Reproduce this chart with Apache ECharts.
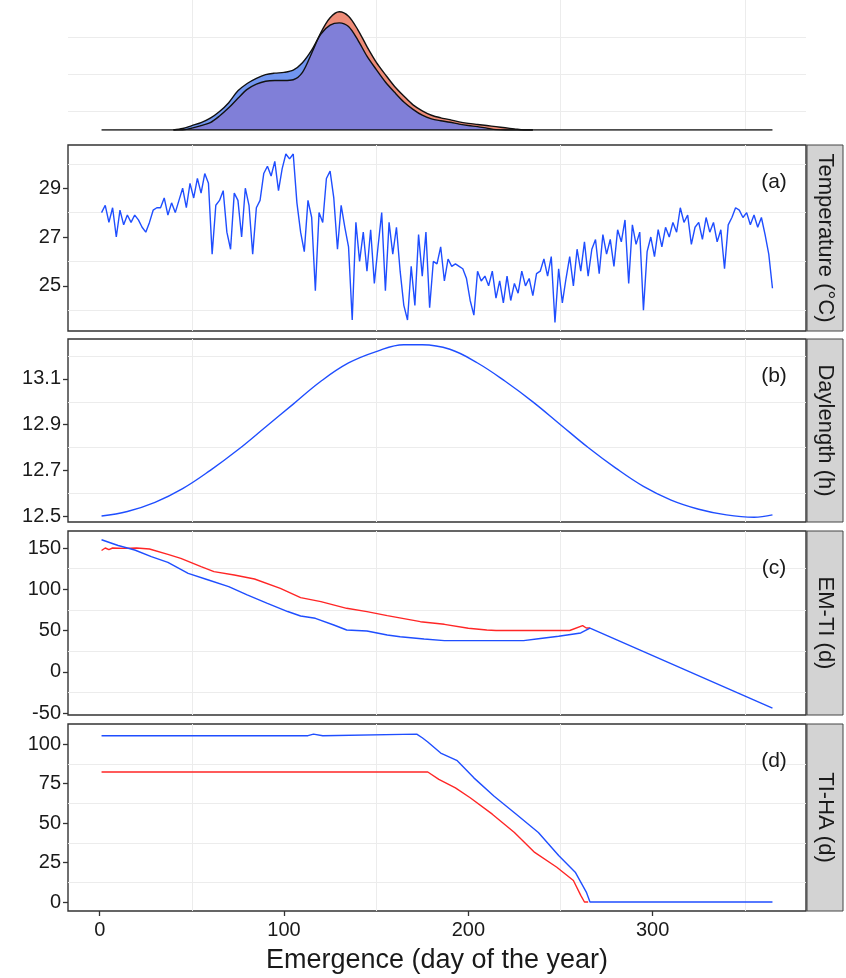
<!DOCTYPE html>
<html>
<head>
<meta charset="UTF-8">
<title>Emergence</title>
<script src="https://cdn.jsdelivr.net/npm/echarts@6/dist/echarts.min.js"></script>
<style>body{margin:0;background:#fff}</style>
</head>
<body>
<div id="main" style="width:846px;height:978px;"></div>
<script>
// emergence density (x 1e-4), two groups
var densDays = [40,45,50,55,60,65,70,75,80,85,90,95,100,105,110,115,120,125,130,135,140,145,150,155,160,165,170,175,180,185,190,195,200,205,210,215,220,225,230,235];
var densBlue = [0,2,6,10,16,25,37,53,63,70,75,77,78,81,91,108,130,142,145,140,122,100,82,65,51,38,28,20,15,12.5,10.5,8,6,4.5,2.5,0.5,0,0,0,0];
var densRed  = [0,0,2.5,6,10,19,30,43,55,62,66,67,67,68,78,104,132,152,160,154,136,113,92,75,59,46,34,26,20,16.5,14,11,9,7.5,6,4.5,3,1.5,0,0];
var baseDays = [1, 365];

// (a) temperature, every second day from day 1
var tempFirstDay = 1, tempEvery = 2;
var temperature = [
  28.0,28.3,27.6,28.2,27.0,28.1,27.5,27.9,27.6,27.9,
  27.7,27.4,27.2,27.6,28.1,28.2,28.2,28.6,27.9,28.4,
  28.0,28.5,29.0,28.2,29.2,28.6,29.4,28.8,29.6,29.2,
  26.3,28.3,28.5,28.9,27.2,26.5,28.8,28.5,27.0,29.0,
  28.3,26.3,28.2,28.5,29.6,29.9,29.5,30.1,28.9,29.8,
  30.4,30.2,30.4,28.4,27.2,26.4,28.5,27.8,24.8,28.0,
  27.6,29.4,29.7,28.6,26.5,28.3,27.4,26.6,23.6,27.6,
  26.0,27.2,25.6,27.3,25.1,26.6,28.0,24.8,27.6,26.3,
  27.4,25.6,24.2,23.6,25.8,24.2,27.1,25.4,27.2,24.1,
  26.0,25.9,26.6,25.2,26.1,25.8,25.9,25.8,25.7,25.3,
  24.4,23.8,25.6,25.2,25.4,25.0,25.6,24.5,25.2,24.3,
  25.4,24.4,25.1,24.7,25.6,25.0,25.3,24.6,25.5,25.6,
  26.1,25.4,26.2,23.5,25.7,24.3,25.3,26.2,25.0,26.5,
  25.6,26.8,25.4,26.5,26.9,25.5,27.1,26.3,26.9,25.8,
  27.3,26.8,27.7,25.1,27.5,26.7,27.2,24.0,26.4,27.0,
  26.2,27.3,26.6,27.4,27.0,27.6,27.2,28.2,27.6,27.9,
  26.7,27.4,27.6,26.9,27.8,27.2,27.6,26.8,27.3,25.7,
  27.5,27.8,28.2,28.1,27.8,28.0,27.5,27.9,27.4,27.8,
  27.1,26.3,24.9
];

// (b) daylength
var dayLenDays = [1,15,30,45,60,75,90,105,120,135,150,165,175,190,205,220,235,250,265,280,295,310,325,340,355,365];
var dayLength  = [12.50,12.52,12.56,12.62,12.70,12.79,12.89,12.99,13.09,13.17,13.22,13.25,13.25,13.23,13.17,13.09,13.00,12.90,12.80,12.71,12.63,12.57,12.53,12.505,12.495,12.505];

// (c) EM-TI
var emtiBlueDays = [1,10,19,28,37,48,59,70,80,91,102,109,117,127,134,145,156,163,176,187,230,238,249,261,266,365];
var emtiBlue     = [160,153,147.6,139.5,132.6,119.3,111.2,103.2,93.1,83,73,67.6,64.8,56.7,50.6,49.4,44.6,42.5,39.7,37.7,37.7,40,43,47,53,-44];
var emtiRedDays  = [1,3,5,7,13,20,27,37,44,55,62,73,84,98,109,120,134,145,156,174,187,200,210,215,255,262,264,266];
var emtiRed      = [147,150,148,150,149.6,150,148.8,142.3,137.5,127.4,121.3,117.3,112.4,101.1,89.8,85,76.9,72.9,68,60.7,57.5,52.7,50.6,50,50,56,53,53];

// (d) TI-HA
var tihaBlueDays = [1,113,114,116,117,121,122,172,175,178,185,194,203,214,226,238,249,258,264,266,365];
var tihaBlue     = [105.3,105.3,106.3,106.3,105.3,105.3,106.3,106.3,104,101.3,94.3,89.5,78.6,67,55.6,44,29.4,18.9,6.3,0,0];
var tihaRedDays  = [1,178,184,193,201,213,225,236,248,257,261,263,265];
var tihaRed      = [82.3,82.3,77.6,72.3,66,55.6,44,31.4,22,13.6,4.2,0,0];

var xTicks = [0, 100, 200, 300];
var xGrid = [50, 150, 250, 350];
var panels = [
  {top: 145, height: 186, min: 23.15, max: 30.77, ticks: [25, 27, 29], grid: [24, 26, 28, 30], strip: 'Temperature (°C)', tag: '(a)'},
  {top: 339, height: 183, min: 12.474, max: 13.275, ticks: [12.5, 12.7, 12.9, 13.1], grid: [12.6, 12.8, 13.0, 13.2], strip: 'Daylength (h)', tag: '(b)'},
  {top: 531, height: 184, min: -52.4, max: 170.6, ticks: [-50, 0, 50, 100, 150], grid: [-25, 25, 75, 125], strip: 'EM-TI (d)', tag: '(c)'},
  {top: 724, height: 187, min: -5.7, max: 112.7, ticks: [0, 25, 50, 75, 100], grid: [12.5, 37.5, 62.5, 87.5], strip: 'TI-HA (d)', tag: '(d)'}
];

var FONT = "'Liberation Sans', Arial, sans-serif";
var BLUE = '#1f4eff', RED = '#ff2626';

function zip(xs, ys) { return xs.map(function (x, i) { return [x, ys[i]]; }); }

var chart = echarts.init(document.getElementById('main'));

var grids = [{left: 68, width: 738, top: 0, height: 130, show: false}];
var xAxes = [], yAxes = [], series = [], graphics = [];

function gridLines(i, yVals) {
  return {
    type: 'line', data: [], xAxisIndex: i, yAxisIndex: i, silent: true,
    markLine: {
      silent: true, symbol: 'none', z: 1, animation: false,
      label: {show: false},
      lineStyle: {color: '#ececec', width: 1, type: 'solid'},
      data: xGrid.map(function (v) { return {xAxis: v}; })
        .concat(yVals.map(function (v) { return {yAxis: v}; }))
    }
  };
}

// density panel
xAxes.push({gridIndex: 0, type: 'value', min: -17.2, max: 383.2, show: false});
yAxes.push({gridIndex: 0, type: 'value', min: 0, max: 176, show: false});
series.push(gridLines(0, [25, 75, 125]));

var overlap = densRed.map(function (v, i) { return Math.min(v, densBlue[i]); });
function densArea(vals, color) {
  return {type: 'line', xAxisIndex: 0, yAxisIndex: 0, data: zip(densDays, vals), showSymbol: false,
    smooth: 0.3, lineStyle: {width: 0}, areaStyle: {color: color, opacity: 1}, silent: true};
}
function densLine(vals) {
  return {type: 'line', xAxisIndex: 0, yAxisIndex: 0, data: zip(densDays, vals), showSymbol: false,
    smooth: 0.3, lineStyle: {width: 1.4, color: '#111'}, silent: true};
}
series.push(densArea(densRed, '#ee8c78'));
series.push(densArea(densBlue, '#7196f0'));
series.push(densArea(overlap, '#807fd8'));
series.push(densLine(densRed));
series.push(densLine(densBlue));
series.push({type: 'line', xAxisIndex: 0, yAxisIndex: 0, data: zip(baseDays, [0, 0]), showSymbol: false,
  lineStyle: {width: 1.6, color: '#111'}, silent: true});

panels.forEach(function (p, k) {
  var gi = k + 1;
  var last = k === panels.length - 1;
  grids.push({left: 68, width: 738, top: p.top, height: p.height, show: true,
    borderColor: '#333', borderWidth: 1.4, backgroundColor: '#fff'});
  xAxes.push({
    gridIndex: gi, type: 'value', min: -17.2, max: 383.2, position: 'bottom',
    axisLine: {show: false, onZero: false},
    splitLine: {show: false},
    axisTick: {show: last, customValues: xTicks, length: 5, lineStyle: {color: '#333', width: 1.3}},
    axisLabel: {show: last, customValues: xTicks, margin: 9, color: '#1a1a1a', fontSize: 20, fontFamily: FONT},
    name: last ? 'Emergence (day of the year)' : '',
    nameLocation: 'middle', nameGap: 36,
    nameTextStyle: {fontSize: 27, color: '#1a1a1a', fontFamily: FONT}
  });
  yAxes.push({
    gridIndex: gi, type: 'value', min: p.min, max: p.max, position: 'left',
    axisLine: {show: false, onZero: false},
    splitLine: {show: false},
    axisTick: {show: true, customValues: p.ticks, length: 5, lineStyle: {color: '#333', width: 1.3}},
    axisLabel: {customValues: p.ticks, margin: 7, color: '#1a1a1a', fontSize: 20, fontFamily: FONT,
      formatter: function (v) { return k === 1 ? v.toFixed(1) : String(v); }}
  });
  series.push(gridLines(gi, p.grid));

  // facet strip and panel tag
  graphics.push({type: 'rect', shape: {x: 807, y: p.top, width: 36, height: p.height},
    style: {fill: '#d3d3d3', stroke: '#444', lineWidth: 1}, z: 10});
  graphics.push({type: 'text', x: 825, y: p.top + p.height / 2, rotation: -Math.PI / 2, z: 11,
    style: {text: p.strip, align: 'center', verticalAlign: 'middle', fill: '#1a1a1a',
      font: "22px " + FONT}});
  graphics.push({type: 'text', x: 774, y: p.top + 37, z: 11,
    style: {text: p.tag, align: 'center', verticalAlign: 'middle', fill: '#1a1a1a',
      font: "21px " + FONT}});
});

function panelLine(gi, days, vals, color) {
  return {type: 'line', xAxisIndex: gi, yAxisIndex: gi, data: zip(days, vals), showSymbol: false,
    lineStyle: {width: 1.4, color: color}, silent: true, z: 3};
}

var tempDays = temperature.map(function (v, i) { return tempFirstDay + i * tempEvery; });
series.push(panelLine(1, tempDays, temperature, BLUE));
var dl = panelLine(2, dayLenDays, dayLength, BLUE);
dl.smooth = 0.4;
series.push(dl);
series.push(panelLine(3, emtiRedDays, emtiRed, RED));
series.push(panelLine(3, emtiBlueDays, emtiBlue, BLUE));
series.push(panelLine(4, tihaRedDays, tihaRed, RED));
series.push(panelLine(4, tihaBlueDays, tihaBlue, BLUE));

chart.setOption({
  animation: false,
  backgroundColor: '#fff',
  grid: grids,
  xAxis: xAxes,
  yAxis: yAxes,
  series: series,
  graphic: graphics
});
</script>
</body>
</html>
